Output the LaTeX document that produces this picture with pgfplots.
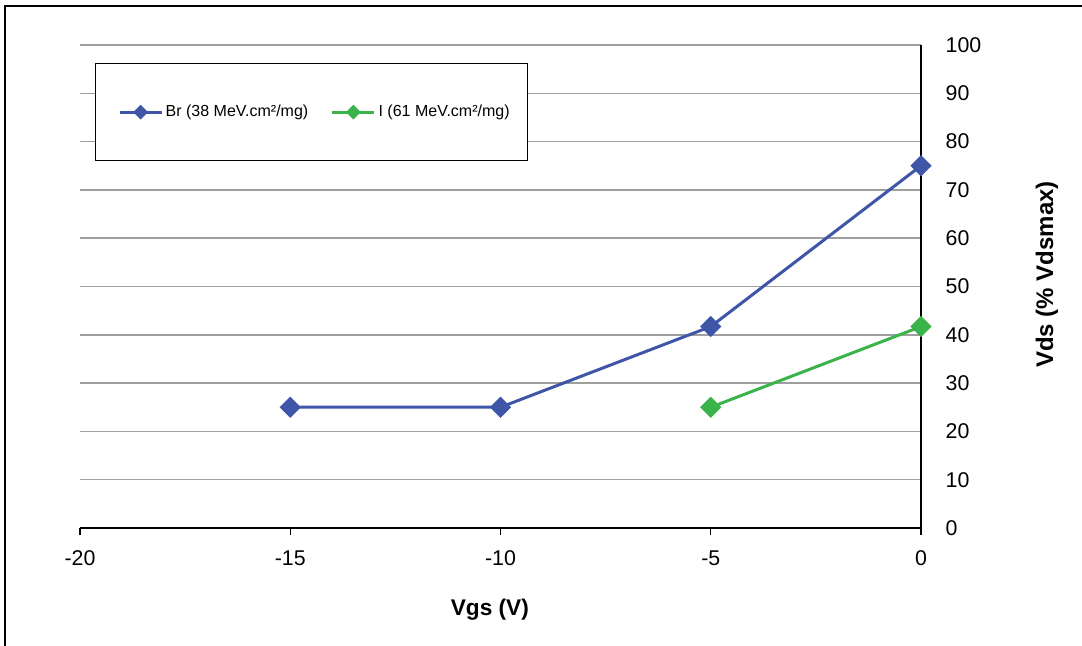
\documentclass[border=0pt]{standalone}
\usepackage{pgfplots}
\pgfplotsset{compat=1.18}
\usepackage{fontspec}
\setmainfont{Liberation Sans}
\definecolor{brblue}{RGB}{63,86,168}
\definecolor{igreen}{RGB}{58,179,74}
\begin{document}
\begin{tikzpicture}
\useasboundingbox (-60pt,-88.5pt) rectangle (751.5pt,396pt);
\clip (-60pt,-88.5pt) rectangle (751.5pt,396pt);
\begin{axis}[
  scale only axis, width=630.75pt, height=362.25pt,
  xmin=-20, xmax=0, ymin=0, ymax=100,
  axis x line*=bottom, axis y line*=right,
  axis line style={black, line width=1.1pt},
  xtick={-20,-15,-10,-5,0}, ytick={0,10,...,100},
  ymajorgrids, grid style={color=gray!75, line width=1.1pt},
  tick align=outside, major tick length=5pt,
  xtick style={black, line width=0.9pt},
  ytick style={draw=none},
  /pgf/number format/assume math mode=true,
  tick label style={font=\fontsize{16}{18}\selectfont},
  xticklabel style={yshift=-8.5pt},
  yticklabel style={anchor=west, xshift=10pt},
  every axis x label/.style={at={(axis description cs:0.5,0)}, anchor=center, yshift=-61.5pt, xshift=-8pt, font=\fontsize{17}{20}\selectfont\bfseries},
  every axis y label/.style={at={(axis description cs:1,0.5)}, anchor=center, rotate=90, yshift=-94.5pt, xshift=9pt, font=\fontsize{18}{21}\selectfont\bfseries},
  xlabel={Vgs (V)},
  ylabel={Vds (\% Vdsmax)},
  legend columns=2,
  legend style={at={(axis description cs:0,1)}, anchor=north west, xshift=11.25pt, yshift=-13.5pt,
    draw=black, line width=1.1pt, fill=white, font=\fontsize{12}{14}\selectfont,
    inner xsep=11.5pt, inner ysep=29.2pt,
    /tikz/every even column/.append style={column sep=9.75pt}},
  legend cell align=left,
  legend image code/.code={
    \path (0pt,0pt);
    \draw[mark repeat=2, mark phase=2, #1, mark size=2.8pt] plot coordinates {(5.25pt,0pt) (21pt,0pt) (36.75pt,0pt)};
  },
]
\addplot[color=brblue, line width=2.25pt, mark=square*, mark size=4.5pt, mark options={rotate=45, solid}]
  coordinates {(-15,25) (-10,25) (-5,41.7) (0,75)};
\addlegendentry{Br (38 MeV.cm²/mg)}
\addplot[color=igreen, line width=2.25pt, mark=square*, mark size=4.5pt, mark options={rotate=45, solid}]
  coordinates {(-5,25) (0,41.7)};
\addlegendentry{I (61 MeV.cm²/mg)}
\end{axis}
\draw[black, line width=1.5pt] (-56.25pt,-120pt) -- (-56.25pt,391.5pt) -- (820pt,391.5pt);
\end{tikzpicture}
\end{document}
